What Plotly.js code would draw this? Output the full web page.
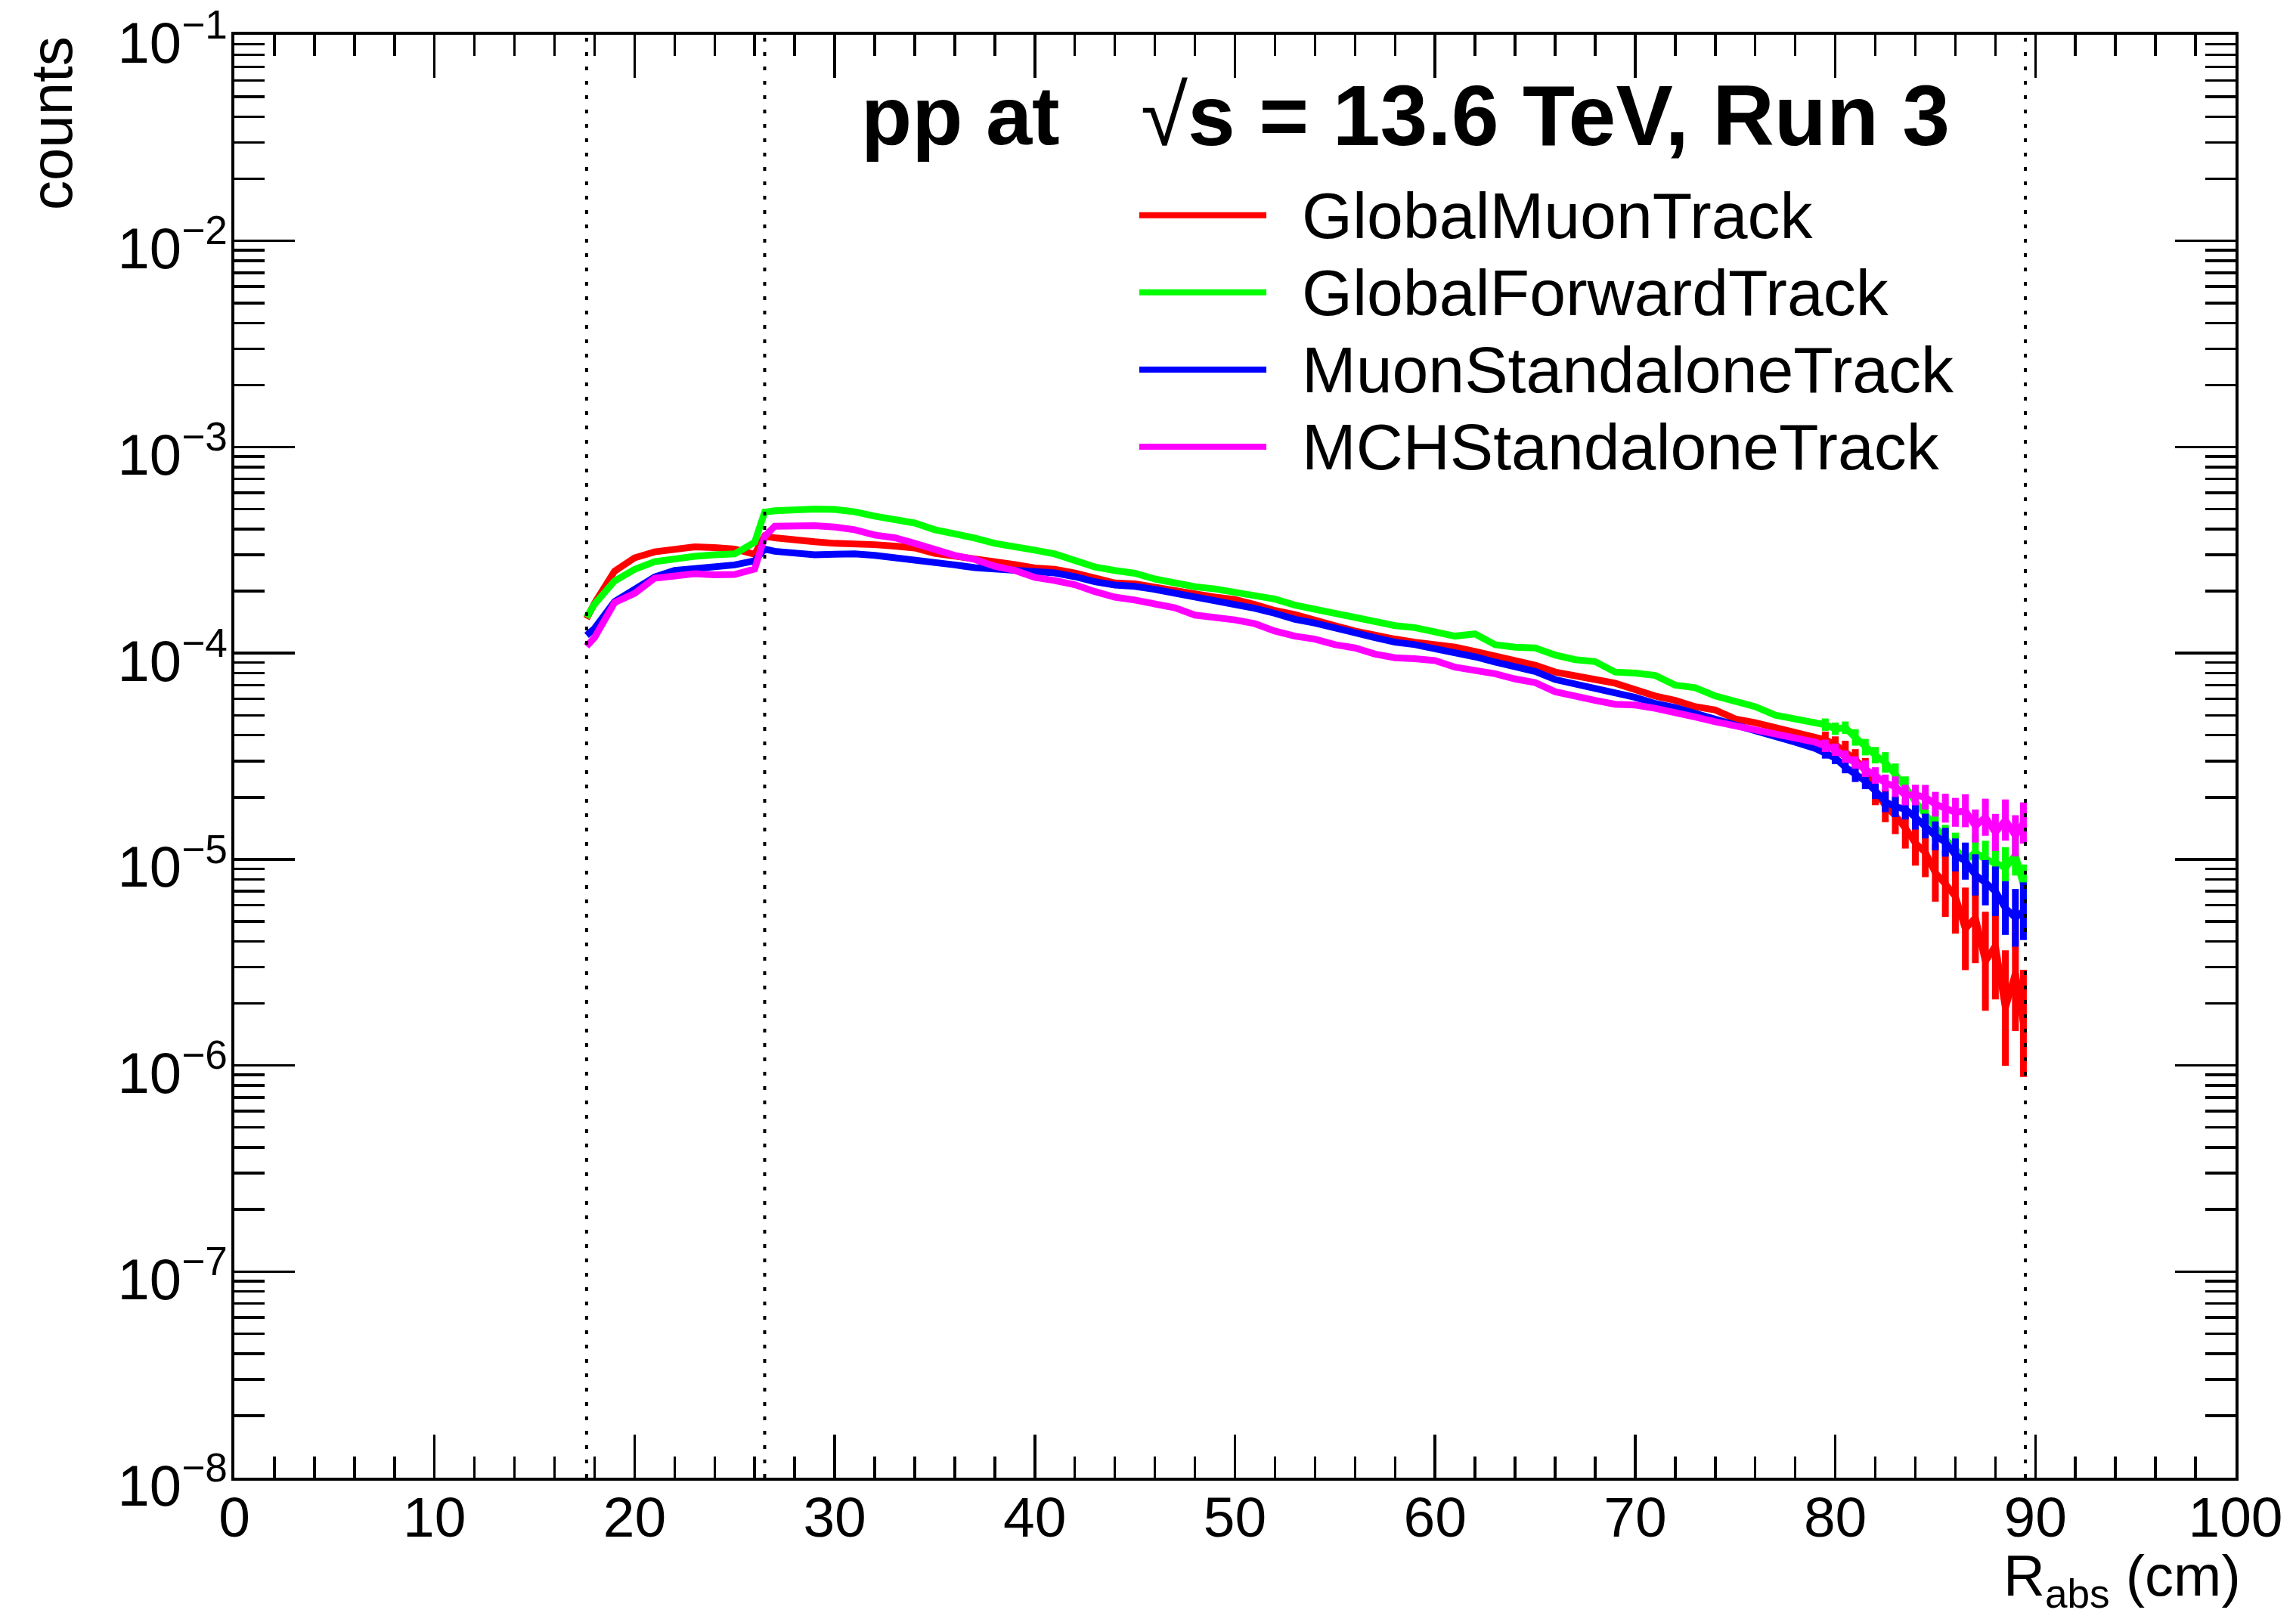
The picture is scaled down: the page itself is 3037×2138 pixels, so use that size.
<!DOCTYPE html>
<html>
<head>
<meta charset="utf-8">
<script src="https://cdn.plot.ly/plotly-3.0.1.min.js"></script>
<style>html,body{margin:0;padding:0;background:#fff;}</style>
</head>
<body>
<div id="chart" style="width:3037px;height:2138px;"></div>
<script>
// R_abs bin positions (cm)
const rAbs = [17.6, 18, 19, 20, 21, 22, 23, 24, 25, 26, 26.5,
  27, 28, 29, 30, 31, 32, 33, 34, 35, 36, 37, 38, 39, 40,
  41, 42, 43, 44, 45, 46, 47, 48, 49, 50, 51, 52, 53, 54, 55, 56, 57, 58, 59, 60,
  61, 62, 63, 64, 65, 66, 67, 68, 69, 70, 71, 72, 73, 74, 75, 76, 77, 78, 79,
  79.5, 80, 80.5, 81, 81.5, 82, 82.5, 83, 83.5, 84, 84.5, 85, 85.5, 86, 86.5,
  87, 87.5, 88, 88.5, 89, 89.4];

const globalMuonTrack = [1.47e-4, 1.75e-4, 2.50e-4, 2.90e-4, 3.10e-4, 3.20e-4, 3.28e-4, 3.25e-4, 3.20e-4, 3.02e-4, 3.70e-4,
  3.63e-4, 3.52e-4, 3.47e-4, 3.41e-4, 3.40e-4, 3.36e-4, 3.31e-4, 3.24e-4, 3.05e-4, 2.96e-4, 2.89e-4, 2.81e-4, 2.69e-4, 2.59e-4,
  2.55e-4, 2.45e-4, 2.33e-4, 2.19e-4, 2.17e-4, 2.10e-4, 2.04e-4, 1.94e-4, 1.87e-4, 1.82e-4, 1.72e-4, 1.61e-4, 1.54e-4, 1.46e-4, 1.36e-4, 1.28e-4, 1.22e-4, 1.17e-4, 1.13e-4, 1.10e-4,
  1.07e-4, 1.02e-4, 9.7e-5, 9.2e-5, 8.75e-5, 8.1e-5, 7.7e-5, 7.45e-5, 7.15e-5, 6.6e-5, 6.2e-5, 5.9e-5, 5.5e-5, 5.3e-5, 4.8e-5, 4.6e-5, 4.35e-5, 4.1e-5, 3.9e-5,
  3.8e-5, 3.6e-5, 3.35e-5, 3.05e-5, 2.7e-5, 2.15e-5, 1.82e-5, 1.63e-5, 1.42e-5, 1.2e-5, 1.08e-5, 8.6e-6, 7.6e-6, 6.6e-6, 4.6e-6,
  5.2e-6, 3.2e-6, 3.8e-6, 1.9e-6, 2.8e-6, 1.6e-6];

const globalForwardTrack = [1.49e-4, 1.73e-4, 2.24e-4, 2.55e-4, 2.78e-4, 2.88e-4, 2.95e-4, 3.00e-4, 3.03e-4, 3.45e-4, 4.83e-4,
  4.91e-4, 4.98e-4, 5.00e-4, 4.98e-4, 4.85e-4, 4.62e-4, 4.44e-4, 4.28e-4, 3.97e-4, 3.80e-4, 3.62e-4, 3.41e-4, 3.30e-4, 3.16e-4,
  3.03e-4, 2.83e-4, 2.62e-4, 2.52e-4, 2.44e-4, 2.29e-4, 2.18e-4, 2.10e-4, 2.05e-4, 1.98e-4, 1.91e-4, 1.83e-4, 1.71e-4, 1.63e-4, 1.56e-4, 1.49e-4, 1.42e-4, 1.36e-4, 1.33e-4, 1.28e-4,
  1.21e-4, 1.24e-4, 1.10e-4, 1.07e-4, 1.06e-4, 9.8e-5, 9.3e-5, 9.1e-5, 8.1e-5, 8.0e-5, 7.8e-5, 7.0e-5, 6.8e-5, 6.2e-5, 5.8e-5, 5.5e-5, 5.0e-5, 4.8e-5, 4.65e-5,
  4.5e-5, 4.3e-5, 4.35e-5, 3.9e-5, 3.5e-5, 3.2e-5, 2.95e-5, 2.6e-5, 2.25e-5, 1.9e-5, 1.65e-5, 1.45e-5, 1.25e-5, 1.12e-5, 9.9e-6,
  1.08e-5, 1.0e-5, 9.6e-6, 9.1e-6, 1.05e-5, 7.5e-6];

const muonStandaloneTrack = [1.22e-4, 1.32e-4, 1.78e-4, 2.06e-4, 2.34e-4, 2.52e-4, 2.58e-4, 2.66e-4, 2.68e-4, 2.81e-4, 3.20e-4,
  3.12e-4, 3.05e-4, 3.00e-4, 3.02e-4, 3.03e-4, 2.98e-4, 2.91e-4, 2.85e-4, 2.79e-4, 2.68e-4, 2.60e-4, 2.56e-4, 2.56e-4, 2.48e-4,
  2.45e-4, 2.35e-4, 2.22e-4, 2.14e-4, 2.11e-4, 2.04e-4, 1.96e-4, 1.86e-4, 1.80e-4, 1.74e-4, 1.65e-4, 1.56e-4, 1.46e-4, 1.40e-4, 1.32e-4, 1.26e-4, 1.19e-4, 1.13e-4, 1.10e-4, 1.05e-4,
  1.01e-4, 9.6e-5, 9.05e-5, 8.65e-5, 8.15e-5, 7.45e-5, 7.1e-5, 6.8e-5, 6.45e-5, 6.1e-5, 5.7e-5, 5.45e-5, 5.1e-5, 4.8e-5, 4.5e-5, 4.2e-5, 3.95e-5, 3.7e-5, 3.45e-5,
  3.3e-5, 3.1e-5, 2.8e-5, 2.6e-5, 2.4e-5, 2.15e-5, 1.9e-5, 1.8e-5, 1.75e-5, 1.6e-5, 1.45e-5, 1.30e-5, 1.21e-5, 1.05e-5, 9.8e-6,
  8.4e-6, 7.7e-6, 7.0e-6, 5.8e-6, 5.2e-6, 5.6e-6];

const mchStandaloneTrack = [1.08e-4, 1.19e-4, 1.76e-4, 1.95e-4, 2.31e-4, 2.38e-4, 2.43e-4, 2.40e-4, 2.41e-4, 2.56e-4, 3.68e-4,
  4.13e-4, 4.15e-4, 4.15e-4, 4.09e-4, 3.97e-4, 3.74e-4, 3.63e-4, 3.41e-4, 3.17e-4, 2.98e-4, 2.85e-4, 2.64e-4, 2.52e-4, 2.33e-4,
  2.25e-4, 2.15e-4, 1.99e-4, 1.87e-4, 1.81e-4, 1.72e-4, 1.66e-4, 1.53e-4, 1.50e-4, 1.45e-4, 1.39e-4, 1.28e-4, 1.21e-4, 1.17e-4, 1.10e-4, 1.06e-4, 9.9e-5, 9.5e-5, 9.4e-5, 9.2e-5,
  8.55e-5, 8.3e-5, 7.95e-5, 7.5e-5, 7.2e-5, 6.5e-5, 6.25e-5, 5.9e-5, 5.65e-5, 5.6e-5, 5.4e-5, 5.1e-5, 4.9e-5, 4.65e-5, 4.45e-5, 4.2e-5, 4.0e-5, 3.85e-5, 3.7e-5,
  3.55e-5, 3.4e-5, 3.15e-5, 2.95e-5, 2.75e-5, 2.55e-5, 2.35e-5, 2.25e-5, 2.05e-5, 2.05e-5, 2.0e-5, 1.85e-5, 1.77e-5, 1.69e-5, 1.72e-5,
  1.45e-5, 1.6e-5, 1.35e-5, 1.55e-5, 1.3e-5, 1.5e-5];

// half-height (in decades) of the statistical error band for the last 21 bins (79.5 ... 89.4 cm)
const globalMuonTrackTailErr = [0.04, 0.04, 0.05, 0.05, 0.06, 0.07, 0.08, 0.09, 0.10, 0.11, 0.12, 0.14, 0.16, 0.18, 0.20, 0.22, 0.24, 0.26, 0.28, 0.28, 0.26];
const globalForwardTrackTailErr = [0.03, 0.03, 0.03, 0.04, 0.04, 0.04, 0.05, 0.05, 0.05, 0.06, 0.06, 0.07, 0.07, 0.08, 0.08, 0.09, 0.09, 0.10, 0.10, 0.10, 0.10];
const muonStandaloneTrackTailErr = [0.03, 0.03, 0.03, 0.04, 0.04, 0.04, 0.05, 0.05, 0.05, 0.06, 0.06, 0.07, 0.07, 0.08, 0.09, 0.10, 0.11, 0.12, 0.13, 0.14, 0.14];
const mchStandaloneTrackTailErr = [0.03, 0.03, 0.03, 0.03, 0.04, 0.04, 0.04, 0.05, 0.05, 0.05, 0.06, 0.06, 0.07, 0.07, 0.08, 0.08, 0.09, 0.09, 0.10, 0.10, 0.10];

const seriesNames = ['GlobalMuonTrack', 'GlobalForwardTrack', 'MuonStandaloneTrack', 'MCHStandaloneTrack'];
const seriesValues = [globalMuonTrack, globalForwardTrack, muonStandaloneTrack, mchStandaloneTrack];
const seriesTailErr = [globalMuonTrackTailErr, globalForwardTrackTailErr, muonStandaloneTrackTailErr, mchStandaloneTrackTailErr];
const seriesColors = ['#ff0000', '#00ff00', '#0000ff', '#ff00ff'];
const cutLines = [17.6, 26.5, 89.5];
const xTickVals = [0, 10, 20, 30, 40, 50, 60, 70, 80, 90, 100];
const yExponents = [-8, -7, -6, -5, -4, -3, -2, -1];

const FONT = 'Liberation Sans, Arial, Helvetica, sans-serif';

const traces = seriesNames.map((name, i) => {
  const vals = seriesValues[i];
  const tail = seriesTailErr[i];
  const offset = vals.length - tail.length;
  const up = vals.map((v, k) => k < offset ? 0 : v * (Math.pow(10, tail[k - offset]) - 1));
  const down = vals.map((v, k) => k < offset ? 0 : v * (1 - Math.pow(10, -tail[k - offset])));
  return {
    type: 'scatter', mode: 'lines', name: name,
    x: rAbs, y: vals,
    line: {color: seriesColors[i], width: 9},
    error_y: {type: 'data', symmetric: false, array: up, arrayminus: down,
      color: seriesColors[i], thickness: 9, width: 0},
    showlegend: false
  };
});

const shapes = cutLines.map(c => ({
  type: 'line', xref: 'x', yref: 'paper', x0: c, x1: c, y0: 0, y1: 1,
  line: {color: '#000', width: 4, dash: '5px,14px'}, layer: 'above'
}));

// legend drawn manually (ROOT TLegend style)
const legTop = 0.875, legStep = 0.0535;
const annotations = [];
seriesNames.forEach((name, i) => {
  const yy = legTop - i * legStep;
  shapes.push({type: 'line', xref: 'paper', yref: 'paper', x0: 0.4522, x1: 0.5157, y0: yy, y1: yy,
    line: {color: seriesColors[i], width: 8}});
  annotations.push({xref: 'paper', yref: 'paper', x: 0.5327, y: yy, xanchor: 'left', yanchor: 'middle',
    text: name, showarrow: false, font: {family: FONT, size: 86, color: '#000'}});
});

annotations.push({xref: 'paper', yref: 'paper', x: 0.3125, y: 0.944, xanchor: 'left', yanchor: 'middle',
  text: '<b>pp at</b>', showarrow: false, font: {family: FONT, size: 110, color: '#000'}});
annotations.push({xref: 'paper', yref: 'paper', x: 0.4522, y: 0.944, xanchor: 'left', yanchor: 'middle',
  text: '√<b>s = 13.6 TeV, Run 3</b>', showarrow: false, font: {family: FONT, size: 113, color: '#000'}});

annotations.push({xref: 'paper', yref: 'paper', x: -0.0914, y: 1.0, xanchor: 'center', yanchor: 'top',
  text: 'counts', textangle: -90, showarrow: false, font: {family: FONT, size: 78, color: '#000'}});
annotations.push({xref: 'paper', yref: 'paper', x: 1.003, y: -0.045, xanchor: 'right', yanchor: 'top',
  text: 'R<sub>abs</sub> (cm)', showarrow: false, borderpad: 0, font: {family: FONT, size: 76, color: '#000'}});

const layout = {
  width: 3037, height: 2138,
  margin: {l: 310, r: 80, t: 46, b: 183, pad: 0},
  paper_bgcolor: '#fff', plot_bgcolor: '#fff',
  font: {family: FONT, color: '#000'},
  showlegend: false,
  xaxis: {
    range: [0, 100], tickmode: 'array', tickvals: xTickVals, ticktext: xTickVals.map(String),
    ticks: 'inside', ticklen: 57, tickwidth: 3.5, tickcolor: '#000',
    minor: {dtick: 2, ticks: 'inside', ticklen: 28, tickwidth: 3.5, tickcolor: '#000', showgrid: false},
    showline: true, linewidth: 4, linecolor: '#000', mirror: 'allticks',
    showgrid: false, zeroline: false, ticklabelstandoff: -16, ticklabeloverflow: 'allow',
    tickfont: {family: FONT, size: 75, color: '#000'}
  },
  yaxis: {
    type: 'log', range: [-8, -0.9999], tickmode: 'array',
    tickvals: yExponents.map(e => Math.pow(10, e)),
    ticktext: yExponents.map(e => '10<sup>\u2212' + Math.abs(e) + '</sup>'),
    ticks: 'inside', ticklen: 80, tickwidth: 3.5, tickcolor: '#000',
    minor: {dtick: 'D1', ticks: 'inside', ticklen: 40, tickwidth: 3.5, tickcolor: '#000', showgrid: false},
    showline: true, linewidth: 4, linecolor: '#000', mirror: 'allticks',
    showgrid: false, zeroline: false, ticklabelstandoff: -10, ticklabelshift: 10, ticklabeloverflow: 'allow',
    tickfont: {family: FONT, size: 76, color: '#000'}
  },
  shapes: shapes,
  annotations: annotations
};

Plotly.newPlot('chart', traces, layout, {staticPlot: true, displayModeBar: false});
</script>
</body>
</html>
